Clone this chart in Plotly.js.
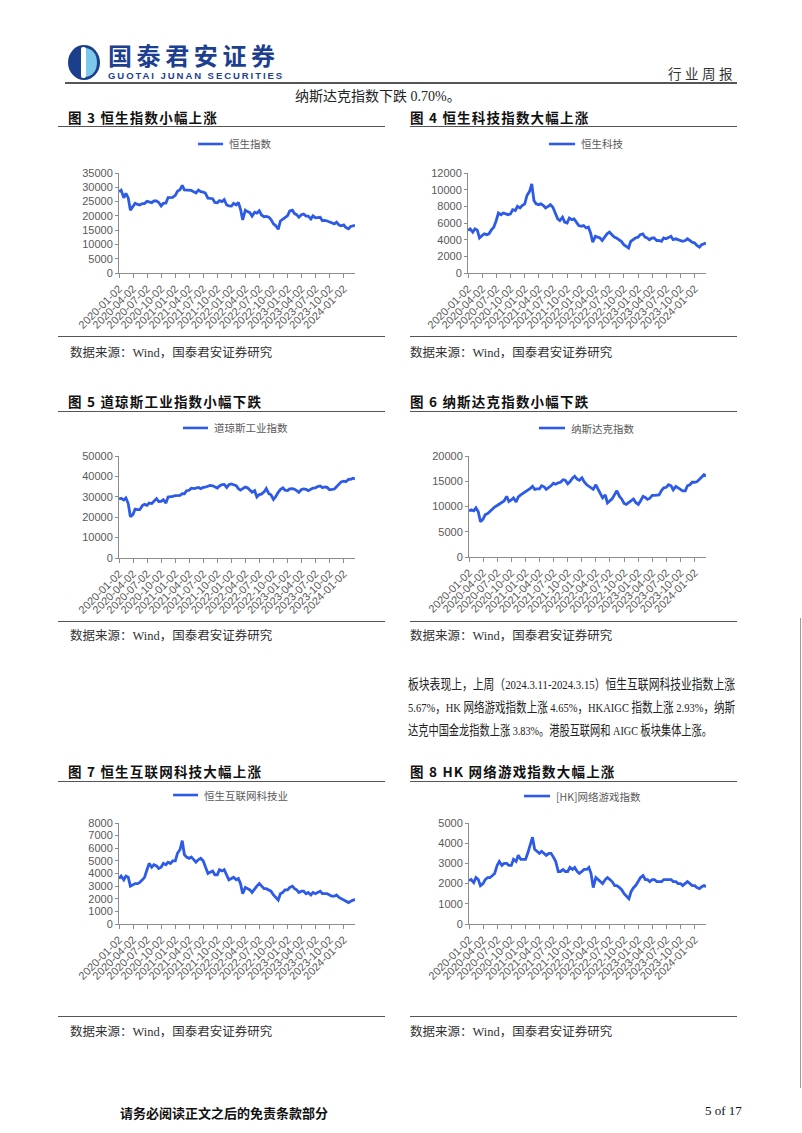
<!DOCTYPE html>
<html>
<head>
<meta charset="utf-8">
<script src="https://cdn.plot.ly/plotly-3.0.1.min.js"></script>
<style>
  html, body { margin:0; padding:0; background:#fff; }
  #page { position:relative; width:802px; height:1133px; overflow:hidden; background:#fff;
          font-family:"Liberation Serif","Noto Sans CJK SC",serif; color:#222; }
  .abs { position:absolute; white-space:nowrap; }
  .hline { position:absolute; height:0; border-top:1.5px solid #555; }
  .title { font-family:"Noto Sans CJK SC",sans-serif; font-weight:700; font-size:13.5px; letter-spacing:1.2px; color:#111; }
  .src { font-size:12.5px; color:#333; font-family:"Liberation Serif","Noto Sans CJK SC",serif; }
  .para { position:absolute; left:408px; font-size:13.5px; line-height:23px; white-space:nowrap; transform-origin:0 50%; }
  .chart { position:absolute; }
</style>
</head>
<body>
<div id="page">
  <!-- header -->
  <svg class="abs" style="left:67px;top:44px" width="34" height="37" viewBox="0 0 34 37">
    <ellipse cx="17" cy="18.5" rx="16" ry="17.5" fill="#1b3f8b"/>
    <path d="M17 4 C 26 4, 30 11, 30 18.5 C 30 26, 26 33, 17 33 Z" fill="#7cc7ea"/>
    <rect x="14" y="3" width="5" height="31" rx="2" fill="#ffffff"/>
    <path d="M14 6 C 8 7, 5 12, 5 18.5 C 5 25, 8 30, 14 31 Z" fill="#1b3f8b"/>
  </svg>
  <div class="abs" style="left:108px;top:44px;font-family:'Noto Sans CJK SC',sans-serif;font-weight:700;font-size:24px;letter-spacing:4.6px;color:#1d3f8f;line-height:22px;">国泰君安证券</div>
  <div class="abs" style="left:108px;top:71px;font-family:'Liberation Sans',sans-serif;font-weight:700;font-size:9.5px;letter-spacing:1.95px;color:#1d3f8f;line-height:9px;">GUOTAI JUNAN SECURITIES</div>
  <div class="abs" style="left:668px;top:64px;font-family:'Noto Sans CJK SC',sans-serif;font-size:13.5px;letter-spacing:3.5px;color:#333;line-height:18px;">行业周报</div>
  <div class="hline" style="left:65px;top:82px;width:672px;border-top:2px solid #555;"></div>
  <div class="abs" style="left:295px;top:88px;font-size:14px;line-height:18px;">纳斯达克指数下跌 0.70%。</div>

  <!-- row 1 -->
  <div class="abs title" style="left:68px;top:107px;">图 3 恒生指数小幅上涨</div>
  <div class="abs title" style="left:410px;top:107px;">图 4 恒生科技指数大幅上涨</div>
  <div class="hline" style="left:58px;top:126px;width:327px;"></div>
  <div class="hline" style="left:410px;top:126px;width:327px;"></div>
  <div id="c1" class="chart" style="left:60px;top:130px;width:300px;height:205px;"></div>
  <div id="c2" class="chart" style="left:400px;top:130px;width:320px;height:205px;"></div>
  <div class="hline" style="left:58px;top:336px;width:327px;"></div>
  <div class="hline" style="left:410px;top:336px;width:327px;"></div>
  <div class="abs src" style="left:70px;top:342px;">数据来源：Wind，国泰君安证券研究</div>
  <div class="abs src" style="left:410px;top:342px;">数据来源：Wind，国泰君安证券研究</div>

  <!-- row 2 -->
  <div class="abs title" style="left:68px;top:391px;">图 5 道琼斯工业指数小幅下跌</div>
  <div class="abs title" style="left:410px;top:391px;">图 6 纳斯达克指数小幅下跌</div>
  <div class="hline" style="left:58px;top:411px;width:327px;"></div>
  <div class="hline" style="left:410px;top:411px;width:327px;"></div>
  <div id="c3" class="chart" style="left:60px;top:415px;width:300px;height:205px;"></div>
  <div id="c4" class="chart" style="left:400px;top:415px;width:320px;height:205px;"></div>
  <div class="hline" style="left:58px;top:621px;width:327px;"></div>
  <div class="hline" style="left:410px;top:621px;width:327px;"></div>
  <div class="abs src" style="left:70px;top:625px;">数据来源：Wind，国泰君安证券研究</div>
  <div class="abs src" style="left:410px;top:625px;">数据来源：Wind，国泰君安证券研究</div>

  <!-- paragraph -->
  <div class="para" data-w="327" style="top:673px;">板块表现上，上周（2024.3.11-2024.3.15）恒生互联网科技业指数上涨</div>
  <div class="para" data-w="327" style="top:696px;">5.67%，HK 网络游戏指数上涨 4.65%，HKAIGC 指数上涨 2.93%，纳斯</div>
  <div class="para" data-w="304" style="top:719px;">达克中国金龙指数上涨 3.83%。港股互联网和 AIGC 板块集体上涨。</div>

  <!-- row 3 -->
  <div class="abs title" style="left:68px;top:761px;">图 7 恒生互联网科技大幅上涨</div>
  <div class="abs title" style="left:410px;top:761px;">图 8 HK 网络游戏指数大幅上涨</div>
  <div class="hline" style="left:58px;top:781px;width:327px;"></div>
  <div class="hline" style="left:410px;top:781px;width:327px;"></div>
  <div id="c5" class="chart" style="left:60px;top:785px;width:300px;height:220px;"></div>
  <div id="c6" class="chart" style="left:400px;top:785px;width:320px;height:220px;"></div>
  <div class="hline" style="left:58px;top:1016px;width:327px;"></div>
  <div class="hline" style="left:410px;top:1016px;width:327px;"></div>
  <div class="abs src" style="left:70px;top:1021px;">数据来源：Wind，国泰君安证券研究</div>
  <div class="abs src" style="left:410px;top:1021px;">数据来源：Wind，国泰君安证券研究</div>

  <!-- right border -->
  <div class="abs" style="left:800px;top:618px;width:0;height:470px;border-left:1px solid #999;"></div>

  <!-- footer -->
  <div class="abs" style="left:120px;top:1103px;font-family:'Noto Sans CJK SC',sans-serif;font-weight:700;font-size:13px;color:#111;">请务必阅读正文之后的免责条款部分</div>
  <div class="abs" style="left:705px;top:1103px;font-size:13px;color:#111;">5 of 17</div>
</div>

<script>
// ---------------- data ----------------
const dates = [
 "2020-01-02","2020-01-16","2020-02-02","2020-02-16","2020-03-02","2020-03-16","2020-04-02","2020-04-16",
 "2020-05-02","2020-05-16","2020-06-02","2020-06-16","2020-07-02","2020-07-16","2020-08-02","2020-08-16",
 "2020-09-02","2020-09-16","2020-10-02","2020-10-16","2020-11-02","2020-11-16","2020-12-02","2020-12-16",
 "2021-01-02","2021-01-16","2021-02-02","2021-02-16","2021-03-02","2021-03-16","2021-04-02","2021-04-16",
 "2021-05-02","2021-05-16","2021-06-02","2021-06-16","2021-07-02","2021-07-16","2021-08-02","2021-08-16",
 "2021-09-02","2021-09-16","2021-10-02","2021-10-16","2021-11-02","2021-11-16","2021-12-02","2021-12-16",
 "2022-01-02","2022-01-16","2022-02-02","2022-02-16","2022-03-02","2022-03-16","2022-04-02","2022-04-16",
 "2022-05-02","2022-05-16","2022-06-02","2022-06-16","2022-07-02","2022-07-16","2022-08-02","2022-08-16",
 "2022-09-02","2022-09-16","2022-10-02","2022-10-16","2022-11-02","2022-11-16","2022-12-02","2022-12-16",
 "2023-01-02","2023-01-16","2023-02-02","2023-02-16","2023-03-02","2023-03-16","2023-04-02","2023-04-16",
 "2023-05-02","2023-05-16","2023-06-02","2023-06-16","2023-07-02","2023-07-16","2023-08-02","2023-08-16",
 "2023-09-02","2023-09-16","2023-10-02","2023-10-16","2023-11-02","2023-11-16","2023-12-02","2023-12-16",
 "2024-01-02","2024-01-16","2024-02-02","2024-02-16","2024-03-02","2024-03-15"
];

const tickDates = [
 "2020-01-02","2020-04-02","2020-07-02","2020-10-02","2021-01-02","2021-04-02","2021-07-02","2021-10-02",
 "2022-01-02","2022-04-02","2022-07-02","2022-10-02","2023-01-02","2023-04-02","2023-07-02","2023-10-02","2024-01-02"
];

const hangSeng = [
 28500,29000,26300,27900,26300,22000,23300,24400,24000,23800,24300,24300,25100,24970,24600,25200,
 25200,24700,23500,24400,24500,26400,26500,26500,27200,28600,29200,30700,29100,29000,28900,28900,
 28400,28000,29000,28500,28300,28000,26200,26200,26000,24700,24600,25300,25000,25700,23800,23500,
 23400,24400,23800,24700,22300,18600,22000,21500,21100,19900,21300,21000,21800,20300,19700,19800,
 19500,18700,17200,16600,15300,18200,18700,19400,20100,21700,22000,20800,20400,19500,20400,20650,
 19900,19900,18900,20000,19300,19400,19500,18300,18400,18200,17800,17600,17200,17800,16800,16500,
 16800,15900,15500,16300,16600,16700
];

const hangSengTech = [
 5100,5300,4900,5300,5150,4200,4500,4700,4600,4700,5200,5500,6300,7200,7000,7200,
 7100,7000,7100,7600,7500,8000,7800,8100,8300,9300,9800,10700,8700,8300,8200,8300,
 8100,7800,8000,8200,7900,7200,6500,6300,6700,6100,6000,6600,6400,6500,6000,5700,
 5600,5700,5400,5500,4800,3700,4400,4300,4200,3900,4400,4700,4900,4600,4300,4200,
 4000,3800,3400,3200,3000,3800,4000,4200,4300,4600,4700,4300,4200,4000,4200,4200,
 3900,3900,3800,4200,4100,4200,4400,4000,4100,4000,3900,3800,3900,4100,3900,3700,
 3600,3300,3100,3400,3500,3600
];

const dowJones = [
 28900,29300,28400,29400,26700,20200,21400,24000,23700,23700,25700,26300,25800,26900,26700,27900,
 29100,27700,27800,28600,26900,29900,29900,30200,30600,30800,30700,31500,31500,33000,33200,34200,
 34000,34300,34600,34000,34600,34700,35000,35600,35400,34700,34300,35300,36000,36100,34600,35900,
 36300,35900,35400,34000,33300,34000,34800,34400,33100,32200,33000,29900,31100,31300,32400,34000,
 31500,31000,28700,30000,32200,33600,34400,33200,33100,33900,34000,33700,33000,32200,33600,33900,
 33700,33000,33700,34300,34400,35000,35300,34500,34800,34600,33400,33600,33800,34900,36200,37300,
 37700,37400,38500,38600,39100,38700
];

const nasdaq = [
 9090,9360,9150,9730,8950,7000,7500,8400,8600,9000,9600,9900,10200,10500,10900,11100,
 12000,11000,11300,11700,10900,11900,12300,12600,12900,13100,13600,14000,13400,13500,13500,14100,
 13900,13400,13750,14100,14600,14400,14700,14800,15300,15200,14500,14900,15600,16000,15400,15200,
 15700,14900,14300,14000,13600,13400,14300,13300,12500,11700,12300,10700,11100,11500,12400,13100,
 12000,11500,10600,10400,10800,11200,11500,10800,10400,11100,12000,11800,11400,11600,12200,12200,
 12200,12300,13200,13700,13800,14300,14100,13300,14000,13700,13300,13100,13100,14100,14300,14800,
 14800,14900,15400,15800,16300,16000
];

const hsInternetTech = [
 3600,3800,3500,3800,3700,3000,3100,3200,3200,3300,3500,3700,4300,4800,4500,4700,
 4600,4400,4500,4800,4700,4900,4800,5000,5000,5600,5900,6600,5500,5300,5200,5300,
 5100,4900,5100,5200,5000,4600,4000,4100,4200,3900,3900,4300,4200,4300,3800,3500,
 3600,3700,3500,3600,3200,2400,2900,2800,2700,2500,2800,3000,3200,3000,2800,2800,
 2700,2600,2300,2100,1900,2400,2500,2700,2700,2900,3000,2800,2700,2500,2600,2600,
 2400,2500,2300,2500,2400,2500,2600,2400,2400,2400,2300,2200,2200,2300,2100,2000,
 1900,1800,1700,1800,1900,1950
];

const hkOnlineGame = [
 2150,2200,2050,2300,2200,1900,2000,2200,2300,2300,2400,2500,2900,3100,2900,3000,
 3000,2900,2900,3200,3100,3400,3200,3200,3200,3500,3900,4300,3700,3600,3500,3600,
 3500,3400,3500,3500,3300,3100,2600,2600,2700,2600,2600,2800,2700,2800,2600,2500,
 2600,2700,2700,2800,2500,1800,2300,2200,2100,2000,2200,2300,2200,2100,1900,1900,
 1800,1700,1500,1400,1250,1600,1800,1900,2100,2300,2400,2200,2200,2100,2200,2200,
 2100,2100,2100,2200,2200,2200,2200,2100,2100,2000,2000,1900,2000,2100,2000,1900,
 1900,1800,1750,1850,1900,1850
];

// ---------------- paragraph fitting ----------------
document.querySelectorAll(".para").forEach(function (el) {
  const target = parseFloat(el.getAttribute("data-w"));
  const w = el.getBoundingClientRect().width;
  if (w > 0) el.style.transform = "scaleX(" + (target / w) + ")";
});

// ---------------- charts ----------------
const LINE = "#2d5be6";
const AXC = "#8c8c8c";
const TICKF = {family:"Liberation Sans, Arial, sans-serif", size:11, color:"#595959"};

function drawChart(id, series, name, yMax, dtick, m, leg) {
  const trace = {
    x: dates, y: series, type: "scatter", mode: "lines", name: name,
    line: {color: LINE, width: 2.8}
  };
  const layout = {
    margin: m,
    paper_bgcolor: "#fff", plot_bgcolor: "#fff",
    showlegend: false,
    shapes: [{type: "line", xref: "paper", yref: "paper",
              x0: leg.x0, x1: leg.x1, y0: leg.y, y1: leg.y,
              line: {color: LINE, width: 2.6}}],
    annotations: [{xref: "paper", yref: "paper", x: leg.tx, y: leg.y,
                   xanchor: "left", yanchor: "middle", showarrow: false, text: name,
                   font: {family: "Noto Sans CJK SC, sans-serif", size: 10.5, color: "#595959"}}],
    xaxis: {
      type: "date", range: [dates[0], dates[dates.length - 1]],
      tickmode: "array", tickvals: tickDates, ticktext: tickDates,
      tickangle: -45, tickfont: TICKF,
      showline: true, linecolor: AXC, linewidth: 1,
      ticks: "outside", ticklen: 4, tickcolor: AXC,
      showgrid: false, zeroline: false, fixedrange: true, automargin: false
    },
    yaxis: {
      range: [0, yMax], dtick: dtick, tick0: 0, tickformat: "d",
      tickfont: TICKF, showline: true, linecolor: AXC, linewidth: 1,
      ticks: "outside", ticklen: 3, tickcolor: AXC,
      showgrid: false, zeroline: false, fixedrange: true, automargin: false
    }
  };
  Plotly.newPlot(id, [trace], layout, {staticPlot: true, displayModeBar: false});
}

drawChart("c1", hangSeng, "恒生指数", 35000, 5000, {l:59, r:5, t:43, b:62},
          {x0:0.335, x1:0.441, tx:0.458, y:1.29});
drawChart("c2", hangSengTech, "恒生科技", 12000, 2000, {l:68, r:14, t:43, b:62},
          {x0:0.34, x1:0.45, tx:0.466, y:1.29});
drawChart("c3", dowJones, "道琼斯工业指数", 50000, 10000, {l:59, r:5, t:41, b:62},
          {x0:0.271, x1:0.377, tx:0.394, y:1.275});
drawChart("c4", nasdaq, "纳斯达克指数", 20000, 5000, {l:69, r:14, t:41, b:63},
          {x0:0.295, x1:0.405, tx:0.42, y:1.277});
drawChart("c5", hsInternetTech, "恒生互联网科技业", 8000, 1000, {l:59, r:5, t:38, b:81},
          {x0:0.229, x1:0.335, tx:0.352, y:1.277});
drawChart("c6", hkOnlineGame, "[HK]网络游戏指数", 5000, 1000, {l:69, r:14, t:38, b:81},
          {x0:0.232, x1:0.342, tx:0.36, y:1.267});
</script>
</body>
</html>
